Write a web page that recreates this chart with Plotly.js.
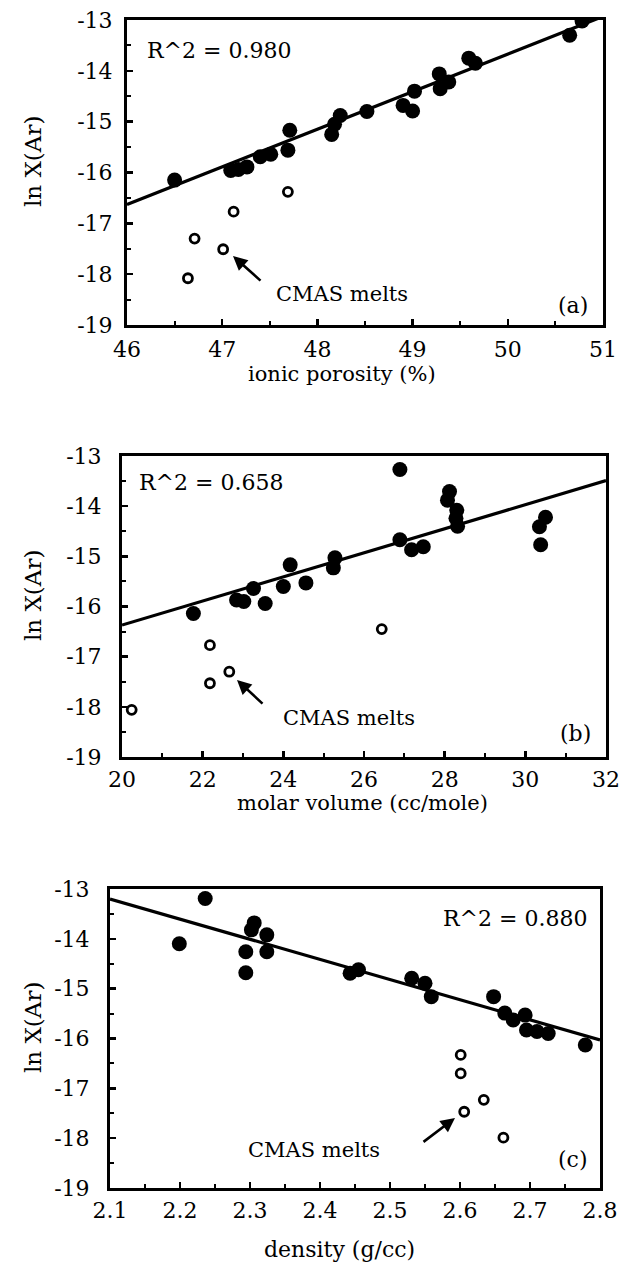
<!DOCTYPE html>
<html>
<head>
<meta charset="utf-8">
<script src="https://cdn.plot.ly/plotly-3.0.1.min.js"></script>
<style>html,body{margin:0;padding:0;background:#fff;}#chart{width:630px;height:1283px;}</style>
</head>
<body>
<div id="chart"></div>
<script>
// ---------- DATA ----------
// Panel (a): ionic porosity (%) vs ln X(Ar)
const poroFilledX = [46.50,47.09,47.17,47.26,47.40,47.51,47.69,47.71,48.15,48.18,48.24,48.52,48.90,49.00,49.02,49.28,49.29,49.38,49.59,49.66,50.65,50.78];
const poroFilledY = [-16.15,-15.96,-15.94,-15.89,-15.69,-15.64,-15.56,-15.17,-15.25,-15.05,-14.88,-14.80,-14.68,-14.79,-14.40,-14.06,-14.35,-14.22,-13.75,-13.85,-13.30,-13.02];
const poroOpenX = [46.64,46.71,47.01,47.12,47.69];
const poroOpenY = [-18.08,-17.30,-17.51,-16.77,-16.38];
const poroFitX = [46,51];
const poroFitY = [-16.63,-12.93];

// Panel (b): molar volume (cc/mole) vs ln X(Ar)
const volFilledX = [21.77,22.84,23.02,23.26,23.55,24.00,24.17,24.56,25.24,25.28,26.89,26.89,27.18,27.47,28.12,28.07,28.30,28.28,28.32,30.50,30.35,30.38];
const volFilledY = [-16.14,-15.87,-15.90,-15.64,-15.94,-15.60,-15.17,-15.53,-15.23,-15.03,-13.27,-14.67,-14.87,-14.81,-13.71,-13.88,-14.08,-14.24,-14.40,-14.22,-14.41,-14.77];
const volOpenX = [20.24,22.18,22.18,22.66,26.44];
const volOpenY = [-18.06,-16.77,-17.53,-17.30,-16.45];
const volFitX = [20,32];
const volFitY = [-16.37,-13.49];

// Panel (c): density (g/cc) vs ln X(Ar)
const densFilledX = [2.199,2.236,2.294,2.294,2.302,2.306,2.324,2.324,2.443,2.455,2.531,2.550,2.559,2.648,2.664,2.676,2.693,2.695,2.710,2.726,2.779];
const densFilledY = [-14.10,-13.19,-14.26,-14.68,-13.82,-13.68,-13.92,-14.26,-14.69,-14.62,-14.79,-14.89,-15.16,-15.16,-15.49,-15.63,-15.53,-15.83,-15.86,-15.90,-16.13];
const densOpenX = [2.601,2.601,2.606,2.634,2.662];
const densOpenY = [-16.33,-16.70,-17.47,-17.23,-17.99];
const densFitX = [2.1,2.8];
const densFitY = [-13.20,-16.03];

// Tick labels
const yTickVals = [-19,-18,-17,-16,-15,-14,-13];
const yTickText = ["-19","-18","-17","-16","-15","-14","-13"];
const poroTicks = [46,47,48,49,50,51];
const volTicks = [20,22,24,26,28,30,32];
const densTicks = [2.1,2.2,2.3,2.4,2.5,2.6,2.7,2.8];
const densTickText = ["2.1","2.2","2.3","2.4","2.5","2.6","2.7","2.8"];

const r2Labels = ["R^2 = 0.980","R^2 = 0.658","R^2 = 0.880"];
const panelLabels = ["(a)","(b)","(c)"];
const xTitles = ["ionic porosity (%)","molar volume (cc/mole)","density (g/cc)"];
const yTitle = "ln X(Ar)";
const noteText = "CMAS melts";

// ---------- LAYOUT HELPERS ----------
const W = 630, H = 1283;
const px = v => v / W;
const py = v => 1 - v / H;
const FONT = "DejaVu Serif, Liberation Serif, serif";

function filled(x, y, xa, ya) {
  return {x, y, xaxis: xa, yaxis: ya, type: 'scatter', mode: 'markers',
    marker: {symbol: 'circle', size: 15, color: '#000'}, hoverinfo: 'none'};
}
function open(x, y, xa, ya) {
  return {x, y, xaxis: xa, yaxis: ya, type: 'scatter', mode: 'markers',
    marker: {symbol: 'circle-open', size: 9, color: '#000', line: {width: 2.8, color: '#000'}}, hoverinfo: 'none'};
}
function fit(x, y, xa, ya) {
  return {x, y, xaxis: xa, yaxis: ya, type: 'scatter', mode: 'lines',
    line: {color: '#000', width: 3.2}, hoverinfo: 'none'};
}

const data = [
  fit(poroFitX, poroFitY, 'x', 'y'),
  filled(poroFilledX, poroFilledY, 'x', 'y'),
  open(poroOpenX, poroOpenY, 'x', 'y'),
  fit(volFitX, volFitY, 'x2', 'y2'),
  filled(volFilledX, volFilledY, 'x2', 'y2'),
  open(volOpenX, volOpenY, 'x2', 'y2'),
  fit(densFitX, densFitY, 'x3', 'y3'),
  filled(densFilledX, densFilledY, 'x3', 'y3'),
  open(densOpenX, densOpenY, 'x3', 'y3')
];

function xAxis(dom, range, tickvals, ticktext, minorDtick, anchor, standoff) {
  return {domain: dom, range, anchor, tickmode: 'array', tickvals, ticktext,
    ticks: 'inside', ticklen: 6, tickwidth: 2.5, tickcolor: '#000',
    minor: {dtick: minorDtick, ticks: 'inside', ticklen: 4, tickwidth: 2, tickcolor: '#000', showgrid: false},
    showline: true, linewidth: 3, linecolor: '#000', mirror: true,
    showgrid: false, zeroline: false, fixedrange: true,
    ticklabelstandoff: standoff,
    tickfont: {family: FONT, size: 22, color: '#000'}};
}
function yAxis(dom, anchor, standoff) {
  return {domain: dom, range: [-19, -13], anchor, tickmode: 'array', tickvals: yTickVals, ticktext: yTickText,
    ticks: 'inside', ticklen: 6, tickwidth: 2.5, tickcolor: '#000',
    minor: {dtick: 0.5, ticks: 'inside', ticklen: 4, tickwidth: 2, tickcolor: '#000', showgrid: false},
    showline: true, linewidth: 3, linecolor: '#000', mirror: true,
    showgrid: false, zeroline: false, fixedrange: true,
    ticklabelstandoff: standoff,
    tickfont: {family: FONT, size: 22, color: '#000'}};
}

// pixel frames [left, right, top, bottom]
const frames = [[127, 603, 20, 325], [122, 606, 456, 757], [110, 600, 889, 1188]];
const xd = f => [px(f[0]), px(f[1])];
const yd = f => [py(f[3]), py(f[2])];

function txt(text, xPix, yPix, xanchor, size, extra) {
  return Object.assign({text, xref: 'paper', yref: 'paper', x: px(xPix), y: py(yPix),
    xanchor, yanchor: 'middle', showarrow: false,
    font: {family: FONT, size, color: '#000'}}, extra || {});
}
function arrow(headX, headY, tailX, tailY) {
  return {text: '', xref: 'paper', yref: 'paper', x: px(headX), y: py(headY),
    ax: tailX - headX, ay: tailY - headY, showarrow: true,
    arrowhead: 2, arrowsize: 1.1, arrowwidth: 2.6, arrowcolor: '#000', standoff: 0};
}

const annotations = [
  txt(r2Labels[0], 145, 50, 'left', 22),
  txt(r2Labels[1], 137, 482, 'left', 22),
  txt(r2Labels[2], 589, 918, 'right', 22),
  txt(panelLabels[0], 590, 305, 'right', 22),
  txt(panelLabels[1], 593, 733, 'right', 22),
  txt(panelLabels[2], 590, 1159, 'right', 22),
  txt(noteText, 274, 294, 'left', 21),
  txt(noteText, 281, 718, 'left', 21),
  txt(noteText, 246, 1150, 'left', 21),
  arrow(233, 256, 262, 282),
  arrow(237, 680, 264, 705),
  arrow(455, 1118, 422, 1143),
  txt(xTitles[0], 342, 374, 'center', 21),
  txt(xTitles[1], 362, 803, 'center', 21),
  txt(xTitles[2], 339, 1249, 'center', 22),
  txt(yTitle, 33, 162, 'center', 23, {textangle: -90}),
  txt(yTitle, 33, 596, 'center', 23, {textangle: -90}),
  txt(yTitle, 33, 1028, 'center', 23, {textangle: -90})
];

const layout = {
  width: W, height: H,
  margin: {l: 0, r: 0, t: 0, b: 0, pad: 0},
  paper_bgcolor: '#fff', plot_bgcolor: '#fff',
  showlegend: false,
  font: {family: FONT, color: '#000'},
  xaxis: xAxis(xd(frames[0]), [46, 51], poroTicks, poroTicks.map(String), 0.5, 'y', 3),
  yaxis: yAxis(yd(frames[0]), 'x', 7),
  xaxis2: xAxis(xd(frames[1]), [20, 32], volTicks, volTicks.map(String), 1, 'y2', 1),
  yaxis2: yAxis(yd(frames[1]), 'x2', 13),
  xaxis3: xAxis(xd(frames[2]), [2.1, 2.8], densTicks, densTickText, 0.05, 'y3', 1),
  yaxis3: yAxis(yd(frames[2]), 'x3', 13),
  annotations
};

Plotly.newPlot('chart', data, layout, {staticPlot: true, displayModeBar: false});
</script>
</body>
</html>
